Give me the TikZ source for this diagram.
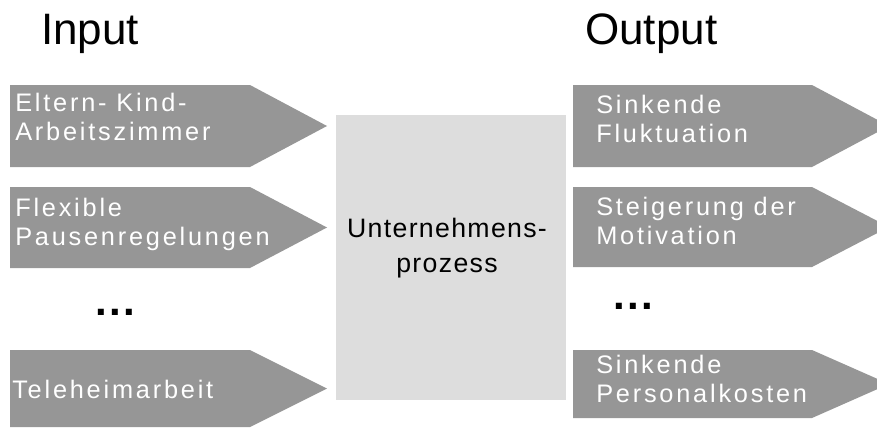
\documentclass[tikz,border=0pt]{standalone}
\usepackage{fontspec}
\usepackage{tikz}
\usepackage{color}

\newfontfamily\titelfont{Liberation Sans}
\newfontfamily\pfeilfont[LetterSpace=11]{Liberation Sans}
\newfontfamily\kastenfont[LetterSpace=5]{Liberation Sans}
\newfontfamily\punktfont[LetterSpace=6]{Liberation Sans}

\definecolor{pfeilgrau}{RGB}{150,150,150}
\definecolor{kastengrau}{RGB}{221,221,221}

\begin{document}
\begin{tikzpicture}
  [x=0.75pt,y=-0.75pt,
   pfeil/.style={fill=pfeilgrau},
   kasten/.style={fill=kastengrau},
   etikett/.style={anchor=base west,inner sep=0,text=white,align=left,
     font=\pfeilfont\fontsize{19}{21.5}\selectfont},
   titel/.style={anchor=base west,inner sep=0,font=\titelfont\fontsize{33}{38}\selectfont},
   punkte/.style={anchor=base west,inner sep=0,font=\punktfont\bfseries\fontsize{31.5}{36}\selectfont}]
  \useasboundingbox (0,0) rectangle (877,428);
  \clip (0,0) rectangle (877,428);

  % input arrows
  \foreach \oben/\unten in {85/167, 187/268, 350/427}
    \fill[pfeil] (10,\oben) -- (250,\oben) -- (327,{(\oben+\unten)/2})
      -- (250,\unten) -- (10,\unten) -- cycle;

  % output arrows
  \foreach \oben/\unten in {85/167, 187/267, 350/418}
    \fill[pfeil] (573,\oben) -- (812,\oben) -- (889,{(\oben+\unten)/2})
      -- (812,\unten) -- (573,\unten) -- cycle;

  % process box
  \fill[kasten] (336,115) rectangle (566,400);

  \node[titel] (input)  at (41,45)  {Input};
  \node[titel] (output) at (585,45) {Output};

  % base = last line
  \node[etikett] (eltern)  at (15,140) {Eltern- Kind-\\Arbeitszimmer};
  \node[etikett] (pausen)  at (15,245) {Flexible\\Pausenregelungen};
  \node[punkte]  (mehrin)  at (95,315) {...};
  \node[etikett] (tele)    at (12,398) {Teleheimarbeit};

  \node[anchor=base,inner sep=0,align=center,
    font=\kastenfont\fontsize{20}{26.25}\selectfont] (prozess) at (447,272)
    {Unternehmens-\\prozess};

  \node[etikett] (fluktuation) at (596,142) {Sinkende\\Fluktuation};
  \node[etikett] (motivation)  at (596,244) {Steigerung der\\Motivation};
  \node[punkte]  (mehrout)     at (613,309) {...};
  \node[etikett] (kosten)      at (596,402) {Sinkende\\Personalkosten};

\end{tikzpicture}
\end{document}
